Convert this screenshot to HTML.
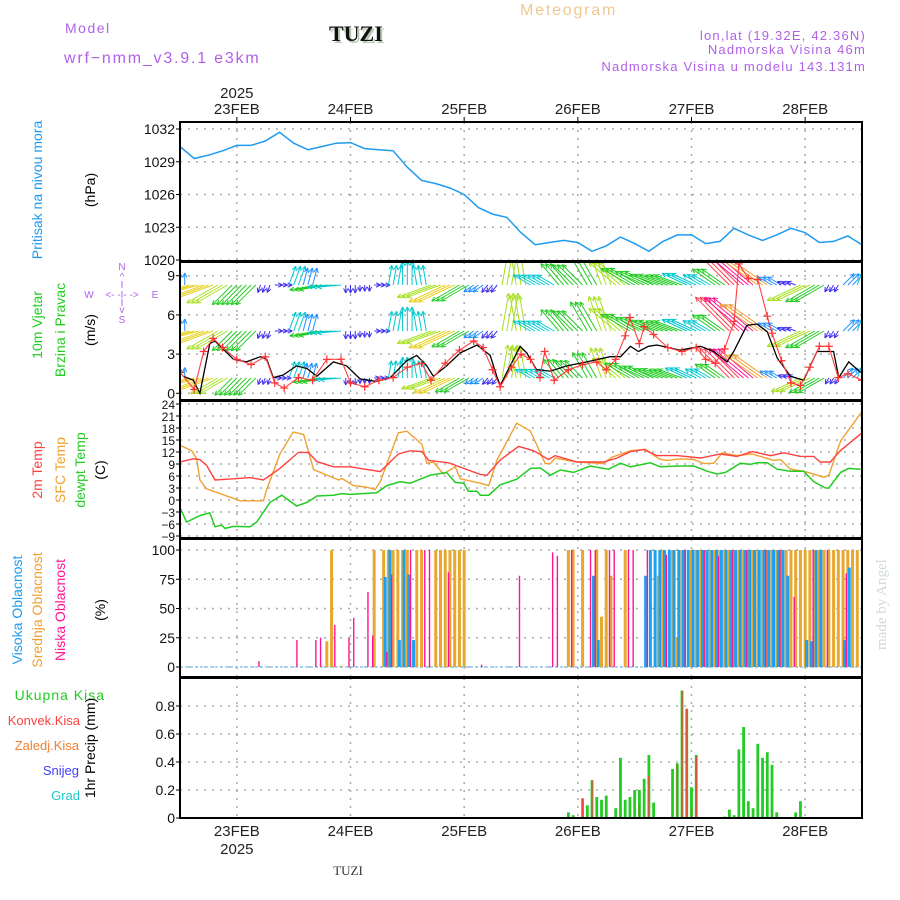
<!DOCTYPE html>
<html><head><meta charset="utf-8"><style>
html,body{margin:0;padding:0;background:#fff;}
svg{display:block;font-family:"Liberation Sans",sans-serif;}
</style></head><body>
<svg id="c" width="900" height="900" viewBox="0 0 900 900" xmlns="http://www.w3.org/2000/svg">
<g>
<text x="65" y="33" font-size="14" fill="#b060e8" letter-spacing="1.5">Model</text>
<text x="64" y="63" font-size="16" fill="#b060e8" letter-spacing="1.8">wrf−nmm_v3.9.1 e3km</text>
<text x="331" y="43" font-size="22" font-weight="bold" fill="#b8c8b0" font-family="Liberation Serif,serif">TUZI</text>
<text x="329" y="41" font-size="22" font-weight="bold" fill="#111" font-family="Liberation Serif,serif">TUZI</text>
<text x="520" y="15" font-size="16" fill="#f0c890" letter-spacing="1.8">Meteogram</text>
<text x="866" y="40" font-size="13" fill="#b060e8" text-anchor="end" letter-spacing="1.2">lon,lat (19.32E, 42.36N)</text>
<text x="866" y="54" font-size="13" fill="#b060e8" text-anchor="end" letter-spacing="1.2">Nadmorska Visina 46m</text>
<text x="866" y="71" font-size="13" fill="#b060e8" text-anchor="end" letter-spacing="1.2">Nadmorska Visina u modelu 143.131m</text>
<text x="348" y="875" font-size="13" fill="#333" text-anchor="middle" font-family="Liberation Serif,serif">TUZI</text>
<text transform="translate(886,650) rotate(-90)" font-size="15" fill="#d0dcd0" font-family="Liberation Serif,serif">made by Angel</text>
</g>
<g font-size="14">
<text transform="translate(42,190) rotate(-90)" text-anchor="middle" fill="#1e9bf0">Pritisak na nivou mora</text>
<text transform="translate(95,190) rotate(-90)" text-anchor="middle" fill="#000">(hPa)</text>
<text transform="translate(42,325) rotate(-90)" text-anchor="middle" fill="#22cc22">10m Vjetar</text>
<text transform="translate(65,330) rotate(-90)" text-anchor="middle" fill="#22cc22">Brzina i Pravac</text>
<text transform="translate(95,330) rotate(-90)" text-anchor="middle" fill="#000">(m/s)</text>
<g fill="#b060e8" font-size="10" text-anchor="middle">
<text x="122" y="270">N</text><text x="122" y="280">^</text><text x="122" y="288">I</text>
<text x="122" y="306">I</text><text x="122" y="313">v</text><text x="122" y="323">S</text>
<text x="89" y="298">W</text><text x="122" y="298">&lt;- -I- -&gt;</text><text x="155" y="298">E</text>
</g>
<text transform="translate(42,470) rotate(-90)" text-anchor="middle" fill="#ff4040">2m Temp</text>
<text transform="translate(65,470) rotate(-90)" text-anchor="middle" fill="#f0a030">SFC Temp</text>
<text transform="translate(85,470) rotate(-90)" text-anchor="middle" fill="#22cc22">dewpt Temp</text>
<text transform="translate(105,470) rotate(-90)" text-anchor="middle" fill="#000">(C)</text>
<text transform="translate(22,610) rotate(-90)" text-anchor="middle" fill="#1e9bf0">Visoka Oblacnost</text>
<text transform="translate(42,610) rotate(-90)" text-anchor="middle" fill="#f0a030">Srednja Oblacnost</text>
<text transform="translate(65,610) rotate(-90)" text-anchor="middle" fill="#ff1493">Niska Oblacnost</text>
<text transform="translate(105,610) rotate(-90)" text-anchor="middle" fill="#000">(%)</text>
<text x="105" y="700" text-anchor="end" fill="#22cc22" letter-spacing="1">Ukupna Kisa</text>
<text x="80" y="725" text-anchor="end" fill="#ff4040" font-size="13">Konvek.Kisa</text>
<text x="79" y="750" text-anchor="end" fill="#f08030" font-size="13">Zaledj.Kisa</text>
<text x="79" y="775" text-anchor="end" fill="#4040ff" font-size="13">Snijeg</text>
<text x="80" y="800" text-anchor="end" fill="#20c8c8" font-size="13">Grad</text>
<text transform="translate(95,748) rotate(-90)" text-anchor="middle" fill="#000">1hr Precip (mm)</text>
</g>
<g id="plot"></g>
</svg>
<script>
// ---- data ----
const dayLabels = ["23FEB","24FEB","25FEB","26FEB","27FEB","28FEB"];
const dayHours = [12,36,60,84,108,132];
const presHours = [0,3,6,9,12,15,18,21,24,27,30,33,36,39,42,45,48,51,54,57,60,63,66,69,72,75,78,81,84,87,90,93,96,99,102,105,108,111,114,117,120,123,126,129,132,135,138,141,144];
const presVals = [1030.4,1029.3,1029.6,1030.0,1030.5,1030.5,1030.9,1031.7,1030.7,1030.1,1030.4,1030.7,1030.75,1030.2,1030.1,1030.0,1028.5,1027.3,1027.0,1026.6,1026.0,1024.8,1024.2,1023.9,1022.5,1021.4,1021.6,1021.8,1021.6,1020.8,1021.3,1022.1,1021.5,1020.8,1021.7,1022.3,1022.3,1021.5,1021.7,1022.9,1022.3,1021.8,1022.3,1022.9,1022.5,1021.6,1021.7,1022.2,1021.4];
const presTicks = [1020,1023,1026,1029,1032];
const windTicks = [0,3,6,9];
const windHours = [0,3,6,9,12,15,18,21,24,27,30,33,36,39,42,45,48,51,54,57,60,63,66,69,72,75,78,81,84,87,90,93,96,99,102,105,108,111,114,117,120,123,126,129,132,135,138,141,144];
const windDir = [0,255,250,240,225,225,200,90,20,15,260,265,180,180,90,10,0,350,250,245,240,235,220,10,350,300,300,320,315,330,340,310,300,295,290,290,295,300,305,315,310,305,300,290,245,240,210,45,20];
const windSpd = [1.5,5,5.5,4.5,3.5,3.5,1,1,2.5,2.2,3.5,3,1,0.8,0.8,2.5,3,2.5,4.5,5,4,1.5,1.2,4.8,4.5,2.5,2.5,3.5,3.6,4.2,4.6,4.4,4.2,4,3.8,3.6,3.4,2.6,3.5,6,6.5,5.8,2,1.2,4.6,4.2,1,2,3];
const spdHours = [0.7,2.8,4.2,6.3,7.4,11.3,14,17,18.3,19.7,21.8,24.6,26.8,28.9,32.4,35.2,38,41.5,44.4,47.9,50,52.1,53.5,56.3,59.2,62.7,65.5,66.9,67.6,69.7,71.8,73.2,75.3,78.2,81.7,85.9,90.8,93,95.1,96.8,98.9,100.7,105.6,109.9,112.7,115.5,116.9,119.7,121.8,124,126.1,128.9,131.7,134.5,138,139.1,141.2,143.7];
const spdVals = [1.3,1.0,0,3.8,4.0,2.6,2.4,2.8,2.6,1.2,1.4,2.1,1.9,1.3,2.4,2.1,1.1,0.9,1.2,2.5,2.9,2.1,1.3,2.1,3.1,3.7,2.9,1.3,0.6,2.1,3.6,3.1,1.8,1.7,2.1,2.4,2.8,2.8,3.6,3.2,3.6,3.7,3.3,3.6,3.2,2.4,3.2,5.2,5.3,4.7,2.7,1.3,1.0,3.2,3.2,1.2,2.4,1.6];
const gustHours = [0,3,5,7,9,12,15,18,20,22,25,28,31,34,36,39,42,45,48,51,53,56,59,62,64,66,67.6,70,72,74,76,77,79,82,85,88,90,92,94,95,97,98,100,103,106,109,111,113,115,117,118,120,122,124,125,127,129,131,133,135,137,139,141,144];
const gustVals = [1.6,0.3,3.2,4.2,3.5,2.6,2.2,2.8,0.8,0.4,1.2,1.0,2.6,2.6,0.8,0.5,1.0,1.2,2.0,2.3,1.0,2.3,3.3,4.0,3.5,1.8,0.5,2.0,3.0,2.6,1.2,3.2,1.0,1.8,2.2,2.4,1.8,2.6,4.4,5.8,3.8,5.1,4.5,3.5,3.2,3.5,2.6,2.3,3.4,5.5,9.9,8.8,8.7,5.9,4.6,2.5,0.8,0.6,2.0,3.6,3.6,1.2,1.5,1.0];
const tempTicks = [-9,-6,-3,0,3,6,9,12,15,18,21,24];
const t2Hours = [0,2.8,4.2,5.6,7.4,11.3,14.8,17.6,21.1,25,27.1,28.9,32.4,35.9,42.3,46.1,48.6,51.1,52.5,56.7,59.9,63.4,64.8,67.6,71.5,74.7,77.8,79.2,83.8,89.4,92.3,95.1,97.9,100.7,104.9,109.9,114.1,117.6,120.8,124.7,127.5,131,133.8,135.2,137.3,139.4,144];
const t2Vals = [9.5,10.3,10.1,8.7,5.0,5.3,5.6,5.0,7.9,11.9,11.9,9.6,8.3,8.3,7.1,11.5,12.3,12.1,9.9,9.3,7.9,6.4,6.2,10.0,13.4,12.3,10.1,11.1,9.5,9.5,10.5,12.1,12.6,11.1,11.1,10.5,11.5,10.9,12.1,11.1,11.8,10.9,10.9,9.5,9.5,12.3,16.8];
const sfcHours = [0,2.5,3.5,4.2,5.6,12.7,17.6,18.3,21.1,23.9,26.1,28.2,33.5,34.2,36.6,39.4,41.2,42.3,46.1,47.9,51.1,52.1,53.5,55.6,58.1,59.2,63.4,65.2,66.9,71.1,74,77.1,78.2,79.2,83.8,89.4,91.2,95.1,98.3,101.1,102.8,105.7,108.5,110.6,112.7,114.5,117.6,120.8,125.4,126.8,128.9,131.7,136,137,139.5,144];
const sfcVals = [13.7,12.3,10.3,5.0,2.8,-0.2,-0.2,2.6,11.5,17.0,16.4,7.6,5.0,5.4,3.6,3.2,2.6,4.6,16.8,17.2,13.9,9.2,9.5,6.5,8.3,5.3,4.2,3.6,9.9,19.2,17.2,9.1,9.1,10.5,9.5,9.1,10.7,12.3,12.7,10.3,9.9,10.3,10.1,9.1,9.2,11.8,11.1,11.5,9.9,10.1,7.7,7.2,5.7,6.2,14.8,22.1];
const dewHours = [0,1.4,3.5,4.2,6.3,7.4,8.8,9.5,11.3,14.8,16.2,19,21.5,24.6,26.8,28.9,32.4,34.2,35.9,41.5,43.7,46.5,48.6,52.8,56.3,58.1,59.9,60.9,62.7,63.4,65.2,67.6,71.1,74,76.1,78.2,80.3,83.1,86.6,90.5,93,95.1,99.3,101.4,105.7,108.5,111.3,113.4,115.2,118.3,120.4,121.9,124,126.1,128.9,131.7,133.8,136.3,137,139.5,141.2,143.7];
const dewVals = [-1.9,-5.5,-4.3,-3.9,-3.2,-6.7,-6.3,-7.1,-6.6,-6.7,-5.5,-0.6,1.2,-1.5,-0.6,1.0,1.2,1.6,1.4,1.8,3.6,4.6,4.2,6.2,6.9,4.4,4.2,2.2,2.2,1.2,1.2,3.8,5.2,7.9,8.0,6.2,7.5,6.9,8.5,7.7,9.2,8.3,9.3,8.3,8.5,8.5,7.2,6.5,6.9,9.2,8.9,9.3,9.3,7.7,7.2,7.2,4.6,3.0,3.0,6.9,7.9,7.7];
const cloudTicks = [0,25,50,75,100];
const lowHours = [17,25,29,30,33,36,37,40,41,44,45,49,52,53,57,64,72,79,80,83,87,88,91,92,95,96,99,103,107,111,114,117,120,124,127,130,134,137,141];
const lowVals = [5,23,23,25,36,25,42,64,27,13,79,100,100,100,81,2,78,98,95,100,100,100,100,100,100,100,100,96,100,100,95,100,100,100,100,60,100,100,80];
const midHours = [31,32,34,41,43,44,45,46,47,48,50,51,54,55,56,57,58,59,60,82,83,85,88,89,90,91,94,101,102,104,105,106,108,109,110,111,112,113,114,115,116,117,118,119,120,121,122,123,124,125,126,127,128,129,130,131,132,133,134,135,136,137,138,139,140,141,142,143];
const midVals = [22,100,1,100,100,100,100,100,100,100,100,100,100,100,100,100,100,100,100,100,100,100,100,43,100,78,100,78,100,100,25,100,100,100,100,100,100,100,100,100,100,100,100,100,100,100,100,100,100,100,100,100,100,100,100,100,100,100,100,100,100,100,100,100,100,100,100,100];
const highHours = [43,44,46,47,48,49,87,88,98,99,100,101,102,103,104,105,106,107,108,109,110,111,112,113,114,115,116,117,118,119,120,121,122,123,124,125,126,127,128,132,133,134,135,140,141,144];
const highVals = [77,100,23,100,79,23,78,23,78,100,100,100,100,100,100,100,100,100,100,100,100,100,100,100,100,100,100,100,100,100,100,100,100,100,100,100,100,100,78,23,22,100,100,23,85,100];
const precipTicks = [0,0.2,0.4,0.6,0.8];
const precHours = [82,83,85,86,87,88,89,90,92,93,94,95,96,97,98,99,100,103,104,105,106,107,108,109,115,116,117,118,119,120,121,122,123,124,125,126,130,131];
const precVals = [0.04,0.02,0.14,0.09,0.27,0.15,0.13,0.16,0.07,0.43,0.13,0.15,0.2,0.2,0.28,0.45,0.11,0.005,0.35,0.39,0.91,0.78,0.22,0.45,0.01,0.06,0.02,0.49,0.65,0.12,0.07,0.53,0.43,0.47,0.38,0.04,0.04,0.12];
const convHours = [85,87,97,99,103,105,106,107,108,109];
const convVals = [0.14,0.27,0.1,0.3,0.005,0.39,0.91,0.78,0.07,0.44];

// ---- drawing ----
const NS="http://www.w3.org/2000/svg";
const plot=document.getElementById('plot');
const X0=180,X1=862,HMAX=144;
const xs=h=>X0+h*(X1-X0)/HMAX;
function el(tag,attrs,parent){const e=document.createElementNS(NS,tag);for(const k in attrs)e.setAttribute(k,attrs[k]);(parent||plot).appendChild(e);return e;}
const panels=[
 {name:'pressure',top:122,bot:261,ymin:1020,ymax:1032,y0:260,y1:129,ticks:presTicks,fmt:v=>v,fs:14},
 {name:'wind',top:262,bot:400,ymin:0,ymax:9,y0:393.3,y1:275.7,ticks:windTicks,fmt:v=>v,fs:14},
 {name:'temperature',top:401,bot:538,ymin:-9,ymax:24,y0:536,y1:404,ticks:tempTicks,fmt:v=>(v<0?'−'+(-v):v),fs:12},
 {name:'cloud',top:539,bot:677,ymin:0,ymax:100,y0:667,y1:550,ticks:cloudTicks,fmt:v=>v,fs:14},
 {name:'precip',top:678,bot:818,ymin:0,ymax:0.8,y0:818,y1:706,ticks:precipTicks,fmt:v=>v,fs:14}
];
panels.forEach(p=>{p.y=v=>p.y0+(v-p.ymin)*(p.y1-p.y0)/(p.ymax-p.ymin);});
const [PP,PW,PT,PC,PR]=panels;

panels.forEach(p=>{
  const g=el('g',{});
  
  
  const cp=el('clipPath',{id:'clip-'+p.name},g);
  el('rect',{x:X0,y:p.top,width:X1-X0,height:p.bot-p.top},cp);
  p.ticks.forEach(t=>{
    const yy=p.y(t);
    const gl=el('line',{x1:X0,x2:X1,y1:yy,y2:yy,stroke:'#aaa','stroke-width':1.5,'stroke-dasharray':'2,6'},g);
    
    
    el('line',{x1:X0-4,x2:X0,y1:yy,y2:yy,stroke:'#000'},g);
    const tx=el('text',{x:X0-5,y:yy+5,'text-anchor':'end','font-size':p.fs,fill:'#111'},g);
    tx.textContent=p.fmt(t);
    
    
  });
  dayHours.forEach(h=>{
    const vl=el('line',{x1:xs(h),x2:xs(h),y1:p.top,y2:p.bot,stroke:'#aaa','stroke-width':1.5,'stroke-dasharray':'2,6'},g);
    
    
  });
  p.data=el('g',{'clip-path':'url(#clip-'+p.name+')'},g);
});

dayLabels.forEach((d,i)=>{
  const x=xs(dayHours[i]);
  const t=el('text',{x:x,y:114,'text-anchor':'middle','font-size':15,fill:'#222'});
  t.textContent=d;
  
  
  el('line',{x1:x,x2:x,y1:117,y2:122,stroke:'#000'});
  const b=el('text',{x:x,y:836,'text-anchor':'middle','font-size':15,fill:'#222'});
  b.textContent=d;
  
  
});
[[98,'top-year-label'],[854,'bottom-year-label']].forEach(([yy,n])=>{
  const t=el('text',{x:xs(dayHours[0]),y:yy,'text-anchor':'middle','font-size':15,fill:'#222'});
  t.textContent='2025';
  
  
});

function line(p,hs,vs,color,name,w){
  const d=hs.map((h,i)=>(i?'L':'M')+xs(h).toFixed(1)+','+p.y(vs[i]).toFixed(1)).join('');
  const e=el('path',{d:d,fill:'none',stroke:color,'stroke-width':w||1.4},p.data);
  
  
  return e;
}
line(PP,presHours,presVals,'#1e9bf0','pressure-line',1.5);

function spdColor(s){
  const stops=[[0.8,'#4030f0'],[1.5,'#1e90ff'],[2.5,'#00c8d0'],[3.5,'#22cc22'],[4.3,'#a8e020'],[5,'#e8d020'],[5.6,'#f0a030'],[6,'#ff4050'],[6.5,'#ff1493']];
  for(let i=stops.length-1;i>=0;i--) if(s>=stops[i][0]) return stops[i][1];
  return stops[0][1];
}
const rowBase=[285,331,378];
const rowScale=[8,8,7];
for(let hr=0;hr<=HMAX;hr++){
  const k=Math.round(hr/3);
  const dir=windDir[k],s=windSpd[k];
  rowBase.forEach((by,r)=>{
    const L=s*rowScale[r];
    const a=dir*Math.PI/180;
    const x1=xs(hr),y1=by,x2=x1+L*Math.sin(a),y2=y1-L*Math.cos(a);
    const c=spdColor(s);
    const ar=el('line',{x1:x1,y1:y1,x2:x2,y2:y2,stroke:c,'stroke-width':1},PW.data);
    
    
    const ang=Math.atan2(y2-y1,x2-x1);
    [0.45,-0.45].forEach(o=>{
      el('line',{x1:x2,y1:y2,x2:x2-5*Math.cos(ang+o),y2:y2-5*Math.sin(ang+o),stroke:c,'stroke-width':1},PW.data);
    });
  });
}
line(PW,spdHours,spdVals,'#000','wind-speed-line',1.3);
line(PW,gustHours,gustVals,'#ff4040','wind-gust-line',1.1);
gustHours.forEach((h,i)=>{
  const x=xs(h),y=PW.y(gustVals[i]);
  const c=el('path',{d:`M${x-4},${y}H${x+4}M${x},${y-4}V${y+4}`,stroke:'#ff3030','stroke-width':1.2},PW.data);
  
  
});

line(PT,sfcHours,sfcVals,'#f0a030','sfc-temp-line',1.4);
line(PT,t2Hours,t2Vals,'#ff4040','temp-2m-line',1.4);
line(PT,dewHours,dewVals,'#22cc22','dewpoint-line',1.5);

const base0=PC.y(0);
el('line',{x1:X0,x2:X1,y1:base0,y2:base0,stroke:'#8ac8f0','stroke-width':1.5,'stroke-dasharray':'3,2'},PC.data);
function bars(p,hs,vs,color,w,off,name){
  hs.forEach((h,i)=>{
    const x=xs(h)+off,y=p.y(vs[i]),yb=p.y(0);
    const r=el('rect',{x:x-w/2,y:Math.min(y,yb),width:w,height:Math.max(0.5,Math.abs(yb-y)),fill:color},p.data);
    
    
  });
}
bars(PC,midHours,midVals,'#e8a830',3,0,'mid-cloud-bar');
bars(PC,highHours,highVals,'#1ea0f0',3,1.5,'high-cloud-bar');
bars(PC,lowHours,lowVals,'#ff1493',1.4,-1.5,'low-cloud-bar');

bars(PR,precHours,precVals,'#22cc22',2.8,0,'total-precip-bar');
bars(PR,convHours,convVals,'#ff4040',1.2,0,'convective-precip-bar');
el('line',{x1:X0,x2:X1,y1:818,y2:818,stroke:'#000','stroke-width':1.5,'stroke-dasharray':'5,3'});

panels.forEach(p=>{
  const b=el('rect',{x:X0,y:p.top,width:X1-X0,height:p.bot-p.top,fill:'none',stroke:'#000','stroke-width':2});
  
  
});
</script>
</body></html>
